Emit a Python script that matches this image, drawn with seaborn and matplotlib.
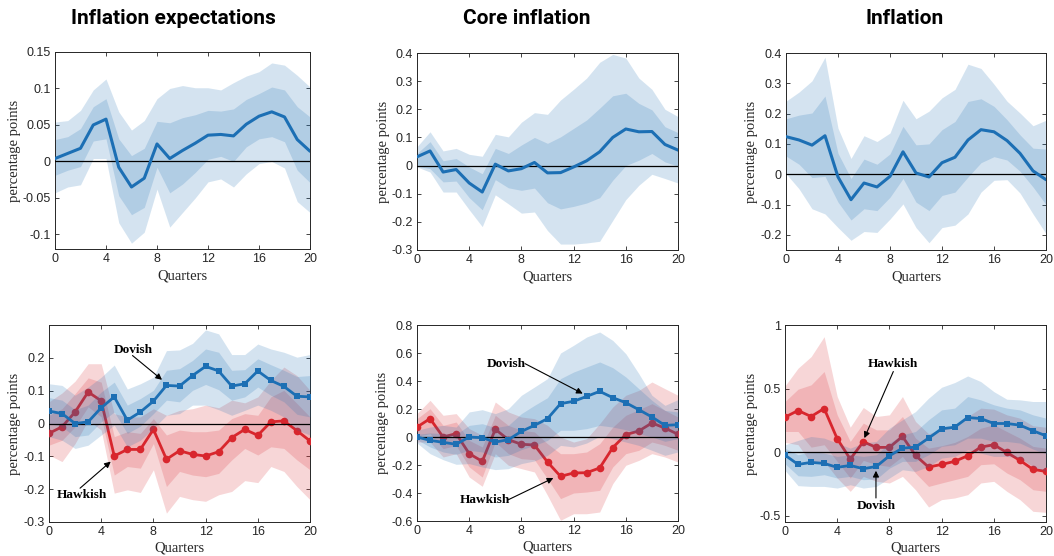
import numpy as np
import matplotlib
matplotlib.use("Agg")
import matplotlib.pyplot as plt
from matplotlib.ticker import FuncFormatter
import seaborn as sns

quarters = list(range(21))

# ---------------- Top row: baseline responses ----------------
ie_med = [0.004, 0.011, 0.018, 0.050, 0.058, -0.008, -0.035, -0.023, 0.024, 0.004, 0.015,
          0.025, 0.036, 0.037, 0.035, 0.051, 0.062, 0.068, 0.061, 0.030, 0.014]
ie_hi68 = [0.030, 0.034, 0.045, 0.075, 0.086, 0.031, 0.008, 0.018, 0.055, 0.053, 0.060,
           0.064, 0.070, 0.069, 0.072, 0.085, 0.093, 0.102, 0.098, 0.075, 0.061]
ie_lo68 = [-0.019, -0.012, -0.007, 0.028, 0.031, -0.047, -0.073, -0.063, -0.008, -0.043, -0.031,
           -0.015, 0.003, 0.007, 0.000, 0.020, 0.031, 0.034, 0.027, -0.012, -0.029]
ie_hi90 = [0.054, 0.056, 0.070, 0.098, 0.113, 0.068, 0.043, 0.056, 0.086, 0.100, 0.104,
           0.101, 0.101, 0.098, 0.108, 0.117, 0.123, 0.135, 0.132, 0.118, 0.102]
ie_lo90 = [-0.043, -0.035, -0.032, 0.004, 0.004, -0.084, -0.112, -0.097, -0.038, -0.090, -0.070,
           -0.050, -0.028, -0.024, -0.035, -0.017, -0.003, 0.000, -0.009, -0.055, -0.070]

core_med = [0.031, 0.052, -0.023, -0.014, -0.062, -0.094, 0.005, -0.019, -0.011, 0.011, -0.026,
            -0.025, -0.005, 0.017, 0.049, 0.100, 0.130, 0.120, 0.121, 0.075, 0.055]
core_hi68 = [0.043, 0.085, 0.017, 0.025, -0.005, -0.029, 0.061, 0.043, 0.073, 0.100, 0.079,
             0.102, 0.132, 0.162, 0.204, 0.248, 0.257, 0.221, 0.198, 0.138, 0.117]
core_lo68 = [-0.002, -0.011, -0.058, -0.055, -0.114, -0.157, -0.050, -0.079, -0.088, -0.080, -0.132,
             -0.154, -0.145, -0.133, -0.114, -0.052, 0.000, 0.019, 0.043, 0.013, -0.002]
core_hi90 = [0.067, 0.120, 0.052, 0.061, 0.040, 0.033, 0.111, 0.102, 0.154, 0.188, 0.182,
             0.233, 0.271, 0.311, 0.367, 0.395, 0.382, 0.311, 0.271, 0.200, 0.174]
core_lo90 = [-0.005, -0.023, -0.094, -0.094, -0.157, -0.217, -0.104, -0.136, -0.169, -0.165, -0.231,
             -0.279, -0.279, -0.275, -0.269, -0.195, -0.121, -0.070, -0.031, -0.046, -0.062]

inf_med = [0.124, 0.113, 0.096, 0.127, -0.009, -0.084, -0.029, -0.042, -0.007, 0.074, 0.004,
           -0.009, 0.038, 0.056, 0.113, 0.147, 0.140, 0.111, 0.069, 0.011, -0.018]
inf_hi68 = [0.183, 0.195, 0.202, 0.258, 0.069, -0.014, 0.050, 0.033, 0.067, 0.158, 0.097,
            0.100, 0.147, 0.174, 0.240, 0.249, 0.224, 0.180, 0.130, 0.086, 0.083]
inf_lo68 = [0.060, 0.033, -0.011, -0.007, -0.092, -0.151, -0.114, -0.120, -0.076, -0.014, -0.092,
            -0.120, -0.070, -0.059, -0.009, 0.038, 0.058, 0.047, 0.010, -0.042, -0.100]
inf_hi90 = [0.241, 0.271, 0.308, 0.386, 0.152, 0.052, 0.127, 0.108, 0.136, 0.244, 0.183,
            0.208, 0.252, 0.280, 0.363, 0.349, 0.297, 0.241, 0.202, 0.160, 0.178]
inf_lo90 = [0.002, -0.048, -0.114, -0.131, -0.176, -0.218, -0.189, -0.192, -0.148, -0.098, -0.176,
            -0.226, -0.176, -0.168, -0.131, -0.059, -0.020, -0.018, -0.062, -0.131, -0.196]

# ---------------- Bottom row: dovish vs hawkish ----------------
ie_dov = [0.038, 0.030, 0.000, 0.005, 0.048, 0.081, 0.010, 0.035, 0.068, 0.116, 0.114,
          0.146, 0.174, 0.160, 0.114, 0.121, 0.160, 0.131, 0.113, 0.083, 0.081]
ie_dov_hi90 = [0.121, 0.116, 0.086, 0.111, 0.141, 0.178, 0.105, 0.121, 0.141, 0.222, 0.224,
               0.244, 0.285, 0.273, 0.210, 0.210, 0.242, 0.227, 0.217, 0.202, 0.210]
ie_dov_hi68 = [0.079, 0.071, 0.042, 0.056, 0.096, 0.126, 0.056, 0.076, 0.101, 0.162, 0.167,
               0.192, 0.227, 0.217, 0.162, 0.164, 0.197, 0.179, 0.162, 0.143, 0.146]
ie_dov_lo68 = [0.000, -0.010, -0.040, -0.035, 0.005, 0.035, -0.030, -0.008, 0.030, 0.071, 0.066,
               0.101, 0.119, 0.103, 0.071, 0.081, 0.111, 0.086, 0.066, 0.028, 0.020]
ie_dov_lo90 = [-0.040, -0.051, -0.076, -0.066, -0.035, -0.005, -0.071, -0.051, -0.015, 0.025, 0.030,
               0.056, 0.056, 0.042, 0.025, 0.040, 0.056, 0.040, 0.020, -0.020, -0.035]
ie_haw = [-0.030, -0.010, 0.035, 0.096, 0.069, -0.099, -0.079, -0.079, -0.018, -0.109, -0.083,
          -0.094, -0.099, -0.086, -0.043, -0.018, -0.036, 0.005, 0.008, -0.022, -0.053]
ie_haw_hi90 = [0.066, 0.093, 0.129, 0.182, 0.182, 0.030, 0.020, 0.020, 0.045, 0.025, 0.040,
               0.045, 0.056, 0.048, 0.071, 0.063, 0.081, 0.131, 0.172, 0.146, 0.101]
ie_haw_hi68 = [0.025, 0.045, 0.091, 0.139, 0.126, -0.040, -0.025, -0.030, 0.015, -0.035, -0.020,
               -0.025, -0.025, -0.020, 0.015, 0.030, 0.025, 0.081, 0.101, 0.061, 0.020]
ie_haw_lo68 = [-0.066, -0.051, -0.010, 0.051, 0.020, -0.157, -0.131, -0.136, -0.061, -0.192, -0.146,
               -0.157, -0.162, -0.152, -0.111, -0.076, -0.096, -0.071, -0.076, -0.111, -0.141]
ie_haw_lo90 = [-0.096, -0.116, -0.061, 0.010, -0.020, -0.212, -0.202, -0.210, -0.141, -0.273, -0.222,
               -0.232, -0.237, -0.217, -0.207, -0.174, -0.180, -0.131, -0.146, -0.192, -0.232]

core_dov = [0.000, -0.024, -0.038, -0.052, 0.000, -0.005, -0.036, -0.019, 0.040, 0.083, 0.131,
            0.238, 0.255, 0.290, 0.326, 0.281, 0.245, 0.195, 0.143, 0.083, 0.088]
core_dov_hi90 = [0.048, 0.071, 0.083, 0.071, 0.179, 0.195, 0.167, 0.202, 0.298, 0.357, 0.417,
                 0.600, 0.655, 0.714, 0.750, 0.690, 0.595, 0.452, 0.298, 0.226, 0.267]
core_dov_hi68 = [0.019, 0.029, 0.024, 0.019, 0.083, 0.095, 0.067, 0.083, 0.167, 0.226, 0.281,
                 0.417, 0.464, 0.500, 0.536, 0.495, 0.429, 0.345, 0.262, 0.190, 0.179]
core_dov_lo68 = [-0.019, -0.071, -0.107, -0.124, -0.095, -0.107, -0.143, -0.131, -0.090, -0.060, -0.024,
                 0.048, 0.048, 0.060, 0.083, 0.071, 0.052, 0.024, 0.000, -0.031, -0.012]
core_dov_lo90 = [-0.043, -0.119, -0.162, -0.195, -0.190, -0.214, -0.233, -0.226, -0.190, -0.171, -0.131,
                 -0.060, -0.071, -0.043, 0.005, -0.012, -0.036, -0.060, -0.095, -0.131, -0.107]
core_haw = [0.071, 0.131, 0.000, 0.024, -0.119, -0.174, 0.055, -0.019, -0.052, -0.057, -0.179,
            -0.281, -0.257, -0.255, -0.221, -0.076, 0.017, 0.043, 0.100, 0.064, 0.019]
core_haw_hi90 = [0.167, 0.262, 0.155, 0.167, 0.060, 0.012, 0.250, 0.179, 0.143, 0.131, 0.083,
                 0.000, -0.036, -0.012, 0.095, 0.214, 0.298, 0.333, 0.393, 0.345, 0.298]
core_haw_hi68 = [0.131, 0.202, 0.083, 0.107, -0.024, -0.071, 0.155, 0.083, 0.048, 0.036, -0.048,
                 -0.119, -0.119, -0.107, -0.048, 0.071, 0.155, 0.195, 0.238, 0.190, 0.143]
core_haw_lo68 = [0.005, 0.024, -0.083, -0.060, -0.214, -0.286, -0.036, -0.119, -0.155, -0.162, -0.298,
                 -0.440, -0.400, -0.393, -0.381, -0.214, -0.119, -0.095, -0.036, -0.060, -0.095]
core_haw_lo90 = [-0.036, -0.036, -0.143, -0.119, -0.286, -0.352, -0.119, -0.202, -0.226, -0.250, -0.417,
                 -0.595, -0.548, -0.548, -0.536, -0.333, -0.202, -0.167, -0.119, -0.143, -0.179]

inf_dov = [-0.024, -0.097, -0.081, -0.089, -0.120, -0.105, -0.131, -0.113, -0.029, 0.031, 0.039,
           0.110, 0.183, 0.196, 0.272, 0.264, 0.225, 0.225, 0.212, 0.168, 0.128]
inf_dov_hi90 = [0.058, 0.092, 0.123, 0.110, 0.071, 0.031, 0.071, 0.084, 0.188, 0.254, 0.319,
                0.424, 0.510, 0.547, 0.599, 0.555, 0.476, 0.416, 0.411, 0.398, 0.398]
inf_dov_hi68 = [0.031, -0.021, 0.005, -0.008, -0.034, -0.021, -0.034, -0.021, 0.071, 0.136, 0.162,
                0.254, 0.332, 0.346, 0.437, 0.411, 0.372, 0.346, 0.332, 0.293, 0.267]
inf_dov_lo68 = [-0.092, -0.186, -0.191, -0.178, -0.204, -0.191, -0.217, -0.212, -0.126, -0.073, -0.073,
                -0.021, 0.045, 0.058, 0.110, 0.110, 0.084, 0.084, 0.071, 0.024, -0.013]
inf_dov_lo90 = [-0.144, -0.264, -0.270, -0.270, -0.283, -0.257, -0.283, -0.270, -0.204, -0.139, -0.152,
                -0.113, -0.047, -0.034, 0.018, -0.008, -0.034, -0.034, -0.047, -0.113, -0.152]
inf_haw = [0.275, 0.327, 0.280, 0.343, 0.105, -0.055, 0.081, 0.037, 0.037, 0.123, -0.026,
           -0.118, -0.097, -0.073, -0.029, 0.039, 0.058, -0.003, -0.065, -0.136, -0.152]
inf_haw_hi90 = [0.521, 0.660, 0.751, 0.908, 0.437, 0.196, 0.351, 0.280, 0.293, 0.437, 0.241,
                0.144, 0.181, 0.215, 0.280, 0.346, 0.338, 0.293, 0.267, 0.207, 0.196]
inf_haw_hi68 = [0.398, 0.495, 0.529, 0.634, 0.293, 0.084, 0.228, 0.175, 0.175, 0.280, 0.110,
                0.031, 0.050, 0.076, 0.123, 0.188, 0.215, 0.162, 0.110, 0.045, 0.031]
inf_haw_lo68 = [0.162, 0.162, 0.039, 0.058, -0.073, -0.204, -0.065, -0.099, -0.113, -0.034, -0.165,
                -0.270, -0.243, -0.217, -0.191, -0.099, -0.092, -0.165, -0.217, -0.296, -0.309]
inf_haw_lo90 = [0.076, 0.058, -0.086, -0.073, -0.204, -0.309, -0.191, -0.230, -0.243, -0.191, -0.296,
                -0.432, -0.374, -0.361, -0.335, -0.243, -0.230, -0.309, -0.374, -0.466, -0.474]

titles = ["Inflation expectations", "Core inflation", "Inflation"]
ylabel = "percentage points"
xlabel = "Quarters"
xticks = [0, 4, 8, 12, 16, 20]

# ---------------- Styling ----------------
sns.set_theme(style="ticks")
plt.rcParams["font.family"] = ["Liberation Sans", "DejaVu Sans"]
BLUE = "#1c6fb4"
RED = "#d8262d"
AXC = "#262626"
SERIF = "Liberation Serif"

W, H = 1054, 556
fig = plt.figure(figsize=(W / 100, H / 100), dpi=100)


def px_axes(x0, y0, x1, y1):
    return fig.add_axes([x0 / W, 1 - y1 / H, (x1 - x0) / W, (y1 - y0) / H])


def _fmt(v, p):
    if abs(v) < 1e-12:
        return "0"
    return "%g" % round(v, 6)


fmt = FuncFormatter(_fmt)


def style(ax, ylim, yticks, lab_x, lab_y):
    ax.set_xlim(0, 20)
    ax.set_ylim(*ylim)
    ax.set_xticks(xticks)
    ax.set_yticks(yticks)
    ax.yaxis.set_major_formatter(fmt)
    ax.tick_params(direction="in", length=3, width=0.6, colors=AXC, labelsize=9,
                   top=True, right=True, pad=3)
    for s in ax.spines.values():
        s.set_visible(True)
        s.set_color(AXC)
        s.set_linewidth(0.7)
    ax.set_ylabel(ylabel, family=SERIF, fontsize=10.5, color=AXC)
    ax.set_xlabel(xlabel, family=SERIF, fontsize=10.5, color=AXC)
    ax.yaxis.set_label_coords(lab_x, 0.5)
    ax.xaxis.set_label_coords(0.5, lab_y)
    ax.axhline(0, color="black", lw=0.9, zorder=5)


def bands(ax, lo90, hi90, lo68, hi68, color, z):
    ax.fill_between(quarters, lo90, hi90, color=color, alpha=0.19, lw=0, zorder=z)
    ax.fill_between(quarters, lo68, hi68, color=color, alpha=0.19, lw=0, zorder=z)


# top row
top_rects = [(55, 52, 310, 249), (417, 53, 678, 250), (786, 53, 1046, 250)]
top_data = [
    (ie_med, ie_lo90, ie_hi90, ie_lo68, ie_hi68, (-0.12, 0.15), [-0.1, -0.05, 0, 0.05, 0.1, 0.15], -0.133),
    (core_med, core_lo90, core_hi90, core_lo68, core_hi68, (-0.3, 0.4), [-0.3, -0.2, -0.1, 0, 0.1, 0.2, 0.3, 0.4], -0.103),
    (inf_med, inf_lo90, inf_hi90, inf_lo68, inf_hi68, (-0.25, 0.4), [-0.2, -0.1, 0, 0.1, 0.2, 0.3, 0.4], -0.108),
]
for rect, (med, lo90, hi90, lo68, hi68, ylim, yt, lx) in zip(top_rects, top_data):
    ax = px_axes(*rect)
    bands(ax, lo90, hi90, lo68, hi68, BLUE, 2)
    sns.lineplot(x=quarters, y=med, ax=ax, color=BLUE, lw=2.2, zorder=6)
    style(ax, ylim, yt, lx, -0.105)

title_x = [173, 527, 905]
for tx, t in zip(title_x, titles):
    fig.text(tx / W, 1 - 18 / H, t, ha="center", va="center", fontsize=15,
             fontweight="bold", family="Roboto", color="black")

# bottom row
bot_rects = [(49, 325, 310, 522), (417, 325, 678, 521), (785, 325, 1046, 522)]
bot_data = [
    (ie_dov, ie_dov_lo90, ie_dov_hi90, ie_dov_lo68, ie_dov_hi68,
     ie_haw, ie_haw_lo90, ie_haw_hi90, ie_haw_lo68, ie_haw_hi68,
     (-0.3, 0.3), [-0.3, -0.2, -0.1, 0, 0.1, 0.2], -0.107),
    (core_dov, core_dov_lo90, core_dov_hi90, core_dov_lo68, core_dov_hi68,
     core_haw, core_haw_lo90, core_haw_hi90, core_haw_lo68, core_haw_hi68,
     (-0.6, 0.8), [-0.6, -0.4, -0.2, 0, 0.2, 0.4, 0.6, 0.8], -0.107),
    (inf_dov, inf_dov_lo90, inf_dov_hi90, inf_dov_lo68, inf_dov_hi68,
     inf_haw, inf_haw_lo90, inf_haw_hi90, inf_haw_lo68, inf_haw_hi68,
     (-0.55, 1.0), [-0.5, 0, 0.5, 1], -0.103),
]
bot_axes = []
for rect, d in zip(bot_rects, bot_data):
    (dov, dlo90, dhi90, dlo68, dhi68, haw, hlo90, hhi90, hlo68, hhi68, ylim, yt, lx) = d
    ax = px_axes(*rect)
    bands(ax, hlo90, hhi90, hlo68, hhi68, RED, 2)
    sns.lineplot(x=quarters, y=haw, ax=ax, color=RED, lw=2.0, marker="o", markersize=5.5,
                 markeredgewidth=0, zorder=3)
    bands(ax, dlo90, dhi90, dlo68, dhi68, BLUE, 4)
    sns.lineplot(x=quarters, y=dov, ax=ax, color=BLUE, lw=2.0, marker="s", markersize=4.5,
                 markeredgewidth=0, zorder=6)
    style(ax, ylim, yt, lx, -0.10)
    bot_axes.append(ax)

ann_kw = dict(family=SERIF, fontweight="bold", fontsize=9.5, color="black", ha="center", va="center", zorder=10)
arr = dict(arrowstyle="-|>", lw=0.8, color="black", mutation_scale=9, shrinkA=0, shrinkB=0)

a = bot_axes[0]
a.text(6.44, 0.225, "Dovish", **ann_kw)
a.annotate("", xy=(8.66, 0.133), xytext=(6.4, 0.207), arrowprops=arr, zorder=10)
a.text(2.5, -0.219, "Hawkish", **ann_kw)
a.annotate("", xy=(4.73, -0.116), xytext=(2.38, -0.197), arrowprops=arr, zorder=10)

a = bot_axes[1]
a.text(6.82, 0.524, "Dovish", **ann_kw)
a.annotate("", xy=(12.7, 0.31), xytext=(8.28, 0.524), arrowprops=arr, zorder=10)
a.text(5.17, -0.448, "Hawkish", **ann_kw)
a.annotate("", xy=(10.45, -0.293), xytext=(7.0, -0.448), arrowprops=arr, zorder=10)

a = bot_axes[2]
a.text(8.28, 0.691, "Hawkish", **ann_kw)
a.annotate("", xy=(6.08, 0.11), xytext=(8.3, 0.634), arrowprops=arr, zorder=10)
a.text(6.97, -0.421, "Dovish", **ann_kw)
a.annotate("", xy=(6.97, -0.147), xytext=(6.97, -0.361), arrowprops=arr, zorder=10)

fig.savefig("out.png", dpi=100, facecolor="white")
